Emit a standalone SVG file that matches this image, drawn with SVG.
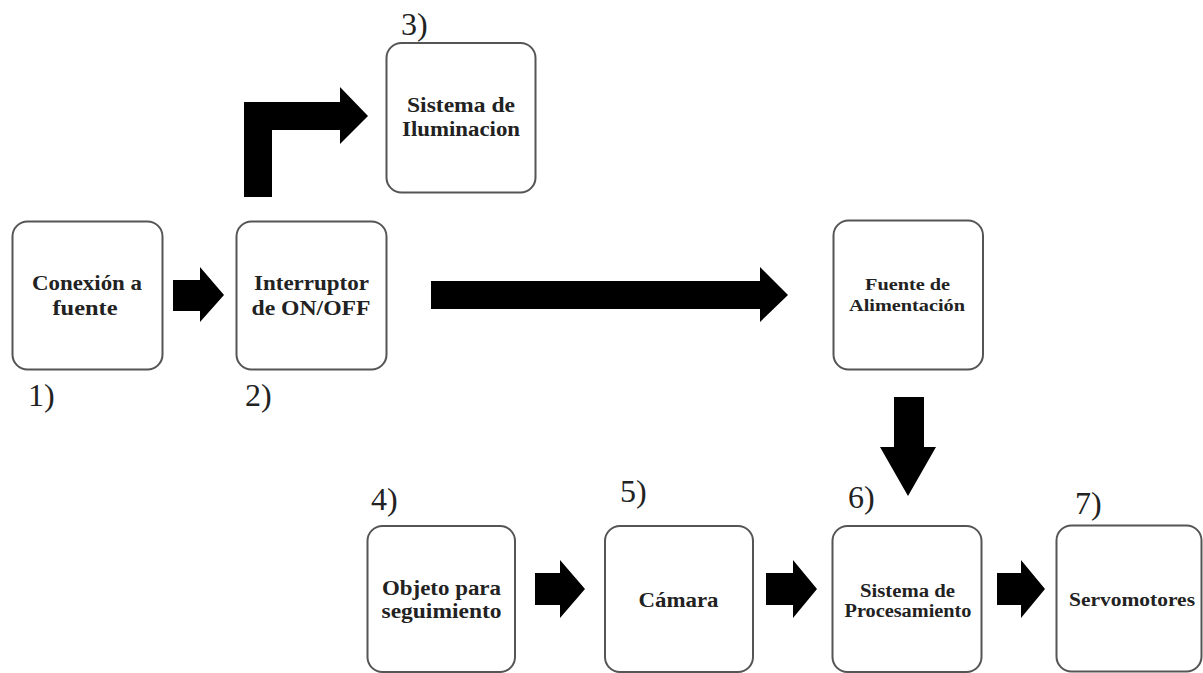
<svg xmlns="http://www.w3.org/2000/svg" width="1203" height="673" viewBox="0 0 1203 673">
<style>
.box{fill:#ffffff;stroke:#555555;stroke-width:2}
.t{font-family:"Liberation Serif","Times New Roman",serif;font-weight:bold;fill:#222222;text-anchor:middle}
.n{font-family:"Liberation Serif","Times New Roman",serif;font-size:32px;fill:#222222}
.arrow{fill:#000000}
</style>
<rect width="1203" height="673" fill="#ffffff"/>
<g id="connectors">
<polygon class="arrow" points="173,280 200,280 200,267 224,295 200,322 200,311 173,311"/>
<polygon class="arrow" points="244,197 244,102 340,102 340,87 368,116 340,144 340,130 272,130 272,197"/>
<polygon class="arrow" points="431,281 760,281 760,267 788,295 760,322 760,309 431,309"/>
<polygon class="arrow" points="894,397 924,397 924,447 936,447 908,496 880,447 894,447"/>
<polygon class="arrow" points="535,573 560,573 560,560 585,589 560,618 560,605 535,605"/>
<polygon class="arrow" points="766,573 793,573 793,560 817,589 793,618 793,605 766,605"/>
<polygon class="arrow" points="997,573 1021,573 1021,560 1045,589 1021,618 1021,605 997,605"/>
</g>
<g id="node1">
<rect class="box" x="12.5" y="221.5" width="150" height="148" rx="15"/>
<text class="t" font-size="20" x="87" y="290" textLength="110" lengthAdjust="spacingAndGlyphs">Conexión a</text>
<text class="t" font-size="20" x="85" y="315" textLength="65" lengthAdjust="spacingAndGlyphs">fuente</text>
<text class="n" x="28" y="406">1)</text>
</g>
<g id="node2">
<rect class="box" x="236.5" y="221.5" width="150" height="148" rx="15"/>
<text class="t" font-size="20" x="311.5" y="290" textLength="115" lengthAdjust="spacingAndGlyphs">Interruptor</text>
<text class="t" font-size="20" x="311" y="315" textLength="119" lengthAdjust="spacingAndGlyphs">de ON/OFF</text>
<text class="n" x="245" y="406">2)</text>
</g>
<g id="node3">
<rect class="box" x="386.5" y="43" width="149" height="149.5" rx="15"/>
<text class="t" font-size="20" x="461" y="112" textLength="108" lengthAdjust="spacingAndGlyphs">Sistema de</text>
<text class="t" font-size="20" x="461" y="136" textLength="118" lengthAdjust="spacingAndGlyphs">Iluminacion</text>
<text class="n" x="401" y="35">3)</text>
</g>
<g id="node-fuente">
<rect class="box" x="833.5" y="220.5" width="149.5" height="149" rx="15"/>
<text class="t" font-size="17" x="907.5" y="290" textLength="85" lengthAdjust="spacingAndGlyphs">Fuente de</text>
<text class="t" font-size="17" x="907" y="310.5" textLength="116" lengthAdjust="spacingAndGlyphs">Alimentación</text>
</g>
<g id="node4">
<rect class="box" x="367.5" y="526" width="147.5" height="146" rx="15"/>
<text class="t" font-size="20" x="441.5" y="595" textLength="119" lengthAdjust="spacingAndGlyphs">Objeto para</text>
<text class="t" font-size="20" x="441.5" y="618" textLength="120" lengthAdjust="spacingAndGlyphs">seguimiento</text>
<text class="n" x="371" y="510">4)</text>
</g>
<g id="node5">
<rect class="box" x="605" y="526" width="148" height="146" rx="15"/>
<text class="t" font-size="20" x="678.5" y="606.5" textLength="80" lengthAdjust="spacingAndGlyphs">Cámara</text>
<text class="n" x="620" y="502">5)</text>
</g>
<g id="node6">
<rect class="box" x="832.5" y="526" width="149" height="146" rx="15"/>
<text class="t" font-size="18" x="907.5" y="596.5" textLength="95" lengthAdjust="spacingAndGlyphs">Sistema de</text>
<text class="t" font-size="18" x="908" y="616.5" textLength="127" lengthAdjust="spacingAndGlyphs">Procesamiento</text>
<text class="n" x="848" y="508">6)</text>
</g>
<g id="node7">
<rect class="box" x="1056.5" y="525.5" width="145" height="146" rx="15"/>
<text class="t" font-size="19" x="1132" y="606" textLength="126" lengthAdjust="spacingAndGlyphs">Servomotores</text>
<text class="n" x="1075" y="514">7)</text>
</g>
</svg>
